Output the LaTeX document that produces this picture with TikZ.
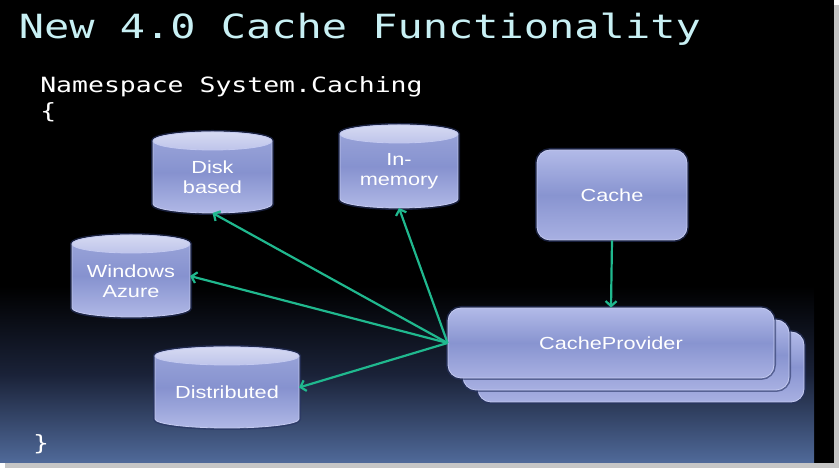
\documentclass[tikz,border=0pt]{standalone}
\usepackage{fontspec}
\usetikzlibrary{arrows.meta,calc}
\newfontfamily\titlefont[FakeStretch=1.26]{DejaVu Sans Mono}
\newfontfamily\shapefont[FakeStretch=1.24]{Liberation Sans}
\definecolor{titlecyan}{RGB}{200,240,244}
\definecolor{arrowteal}{RGB}{32,184,142}
\definecolor{bodytop}{RGB}{156,166,218}
\definecolor{bodymid}{RGB}{134,146,207}
\definecolor{bodybot}{RGB}{176,184,230}
\definecolor{boxtop}{RGB}{178,186,232}
\definecolor{boxmid}{RGB}{136,148,208}
\definecolor{boxbot}{RGB}{168,176,226}
\definecolor{capfill}{RGB}{214,218,242}
\definecolor{capbot}{RGB}{190,196,234}
\definecolor{edgelight}{RGB}{196,202,240}
\definecolor{glow}{RGB}{40,52,100}
\definecolor{bgblue}{RGB}{80,106,154}
\definecolor{bgmid}{RGB}{26,34,56}
\newcommand\mycyl[6]{%
  \pgfmathsetmacro\cylrx{#4/2}%
  \pgfmathsetmacro\cylhy{#5/2-9}%
  \path[cylbody] ({#2-\cylrx},{#3+\cylhy}) -- ({#2-\cylrx},{#3-\cylhy})
     arc[start angle=180,end angle=360,x radius=\cylrx pt,y radius=9pt]
     -- ({#2+\cylrx},{#3+\cylhy})
     arc[start angle=0,end angle=180,x radius=\cylrx pt,y radius=9pt] -- cycle;
  \path[cyltop] (#2,{#3+\cylhy}) ellipse[x radius=\cylrx pt,y radius=9pt];
  \node[anchorbox, minimum width=#4pt, minimum height=#5pt] (#1) at (#2,#3) {};
  \node[shapetext] (#1-text) at (#2,{#3-5}) {#6};
}
\begin{document}
\begin{tikzpicture}[x=1pt,y=1pt,
  shapetext/.style={text=white, font=\shapefont\fontsize{17.5}{20}\selectfont, align=center, inner sep=0pt},
  anchorbox/.style={rectangle, inner sep=0pt, outer sep=0pt},
  cylbody/.style={top color=bodytop, bottom color=bodybot, middle color=bodymid,
     draw=edgelight, line width=0.8pt, preaction={draw=glow, line width=4pt, opacity=0.6}},
  cyltop/.style={top color=capfill, bottom color=capbot, draw=edgelight, line width=0.8pt},
  boxstyle/.style={rectangle, rounded corners=13pt, draw=edgelight, line width=0.8pt,
     top color=boxtop, bottom color=boxbot, middle color=boxmid,
     preaction={draw=glow, line width=4pt, opacity=0.6},
     text=white, font=\shapefont\fontsize{17.5}{20}\selectfont, inner sep=0pt},
  arr/.style={draw=arrowteal, line width=2.2pt, -{Straight Barb[length=5pt,width=11pt]}},
  codetext/.style={anchor=base west, inner sep=0pt, text=white, font=\titlefont\fontsize{21}{25}\selectfont},
]
% slide background
\useasboundingbox (0,0) rectangle (839,468);
\fill[white] (0,0) rectangle (839,468);
\fill[gray!45] (5,0) rectangle (839,463);
\fill[black] (0,5) rectangle (834,468);
\shade[top color=black, bottom color=bgblue, middle color=bgmid] (0,5) rectangle (814,182);

% texts
\node[anchor=base west, inner sep=0pt, text=titlecyan, font=\titlefont\fontsize{33.3}{36}\selectfont] (title) at (18.6,429) {New 4.0 Cache Functionality};
\node[codetext] (ns) at (40.1,375) {Namespace System.Caching};
\node[codetext] (open) at (40.1,349) {\{};
\node[codetext] (close) at (33,17) {\}};

% cylinders
\mycyl{disk}{212.5}{295.5}{119}{81}{Disk\\based}
\mycyl{mem}{399}{301.5}{118}{83}{In-\\memory}
\mycyl{azure}{131}{192}{118}{82}{Windows\\Azure}
\mycyl{dist}{227}{80.5}{144}{81}{Distributed}

% boxes
\node[boxstyle, minimum width=150pt, minimum height=90pt] (cache) at (612,273) {Cache};
\node[boxstyle, minimum width=326pt, minimum height=70pt] (cp3) at (641,101) {};
\node[boxstyle, minimum width=326pt, minimum height=70pt] (cp2) at (626,113) {};
\node[boxstyle, minimum width=326pt, minimum height=70pt] (cp) at (611,125) {CacheProvider};

% connectors
\draw[arr] (cache.south) -- (cp.north);
\draw[arr] (cp.west) -- (disk.south);
\draw[arr] (cp.west) -- (mem.south);
\draw[arr] (cp.west) -- (azure.east);
\draw[arr] (cp.west) -- (dist.east);
\end{tikzpicture}
\end{document}
